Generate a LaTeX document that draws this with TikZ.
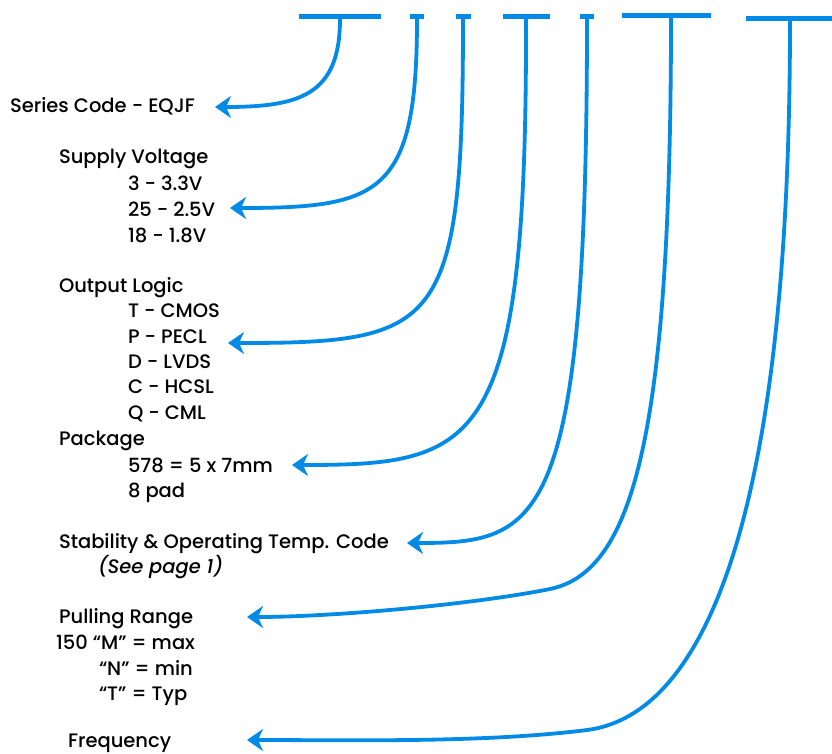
\documentclass[tikz,border=0pt]{standalone}
\usepackage{fontspec}
\setmainfont{Poppins}[UprightFont={* Medium},ItalicFont={* Medium Italic}]
\usetikzlibrary{arrows.meta}
\definecolor{codeblue}{RGB}{2,139,230}

\begin{document}
\begin{tikzpicture}[x=1pt,y=-1pt,
  lbl/.style={inner sep=0pt,outer sep=0pt,anchor=base west,text=black,font=\fontsize{19.5}{23}\selectfont},
  bar/.style={fill=codeblue,draw=none,inner sep=0pt,outer sep=0pt,minimum height=5pt},
  lead/.style={draw=codeblue,line width=3.8pt,-{Stealth[length=16pt,width=22pt,inset=5pt]}}]
\path[use as bounding box] (0,0) rectangle (832,753);
% code fields along the top
\node[bar,minimum width=82pt] (b1) at (340,16.5) {};
\node[bar,minimum width=14pt] (b2) at (417,16.5) {};
\node[bar,minimum width=15pt] (b3) at (463,16.5) {};
\node[bar,minimum width=47pt] (b4) at (526,16.5) {};
\node[bar,minimum width=14pt] (b5) at (587,16.5) {};
\node[bar,minimum width=89pt] (b6) at (666.5,15.5) {};
\node[bar,minimum width=88pt] (b7) at (790,18.5) {};
% labels
\node[lbl] (series) at (10,112) {Series Code - EQJF};
\node[lbl] (supply) at (59,163) {Supply Voltage};
\node[lbl] (v33) at (128,190) {3 - 3.3V};
\node[lbl] (v25) at (128,216) {25 - 2.5V};
\node[lbl] (v18) at (128,242) {18 - 1.8V};
\node[lbl] (logic) at (59,292) {Output Logic};
\node[lbl] (cmos) at (128,317) {T - CMOS};
\node[lbl] (pecl) at (128,343) {P - PECL};
\node[lbl] (lvds) at (128,368) {D - LVDS};
\node[lbl] (hcsl) at (128,393) {C - HCSL};
\node[lbl] (cml) at (128,419) {Q - CML};
\node[lbl] (package) at (59,445) {Package};
\node[lbl] (pkgsize) at (128,472) {578 = 5 x 7mm};
\node[lbl] (pkgpad) at (128,497) {8 pad};
\node[lbl] (stab) at (59,548) {Stability \& Operating Temp. Code};
\node[lbl,font=\fontsize{19.5}{23}\selectfont\itshape] (seepage) at (98,573) {(See page 1)};
\node[lbl] (pull) at (59,623) {Pulling Range};
\node[lbl] (pullM) at (56,649) {150 “M” = max};
\node[lbl] (pullN) at (99,675) {“N” = min};
\node[lbl] (pullT) at (99,700) {“T” = Typ};
\node[lbl] (freq) at (68,747) {Frequency};
% arrow tips
\coordinate (t1) at (215,107);
\coordinate (t2) at (230,208);
\coordinate (t3) at (228,343);
\coordinate (t4) at (292,465);
\coordinate (t5) at (407,543);
\coordinate (t6) at (247,617);
\coordinate (t7) at (247,740);
% leaders
\draw[lead] (b1.south) .. controls (340,95) and (300,107) .. (t1);
\draw[lead] (b2.south) .. controls (417,195) and (380,208) .. (t2);
\draw[lead] (b3.south) .. controls (463,330) and (440,343) .. (t3);
\draw[lead] (b4.south) .. controls (527,450) and (480,465) .. (t4);
\draw[lead] (b5.south) .. controls (587,530) and (540,543) .. (t5);
\draw[lead] ([xshift=4.5pt]b6.south) .. controls (671,440) and (632,572) .. (550,589)
  .. controls (470,605) and (330,617) .. (t6);
\draw[lead] (b7.south) .. controls (790,560) and (690,717) .. (587,730)
  .. controls (484,743) and (350,740) .. (t7);
\end{tikzpicture}
\end{document}
